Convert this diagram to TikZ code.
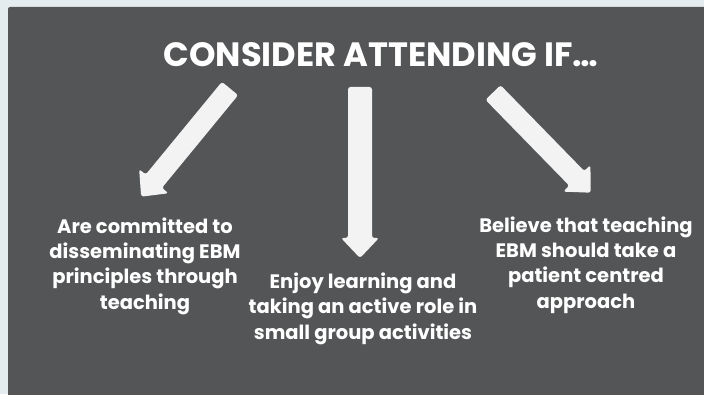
\documentclass[tikz,border=0pt]{standalone}
\usepackage{fontspec}
\setmainfont{Poppins}
\definecolor{bgout}{HTML}{E5ECEF}
\definecolor{panel}{HTML}{545557}
\definecolor{arrowc}{HTML}{F3F3F3}
\newcommand{\blockarrow}[6]{% tail x, tail y, angle, length, shaft half, head half
  \begin{scope}[shift={(#1,#2)},rotate=#3]
    \fill[arrowc,rounded corners=2.5pt] (0,-#5) -- (#4-20,-#5) -- (#4-20,-#6) -- (#4,0) -- (#4-20,#6) -- (#4-20,#5) -- (0,#5) -- cycle;
  \end{scope}}
\tikzset{
  body/.style={text=white,font=\bfseries\fontsize{19.5}{25.3}\selectfont,align=center,inner sep=0pt,anchor=base},
  title/.style={text=white,font=\bfseries\fontsize{33.7}{40}\selectfont,inner sep=0pt,anchor=base}
}
\begin{document}
\begin{tikzpicture}[x=1pt,y=1pt]
\useasboundingbox (0,0) rectangle (704,394);
\fill[bgout] (0,0) rectangle (704,394);
\fill[panel,rounded corners=2pt] (8,-5) rectangle (710,387);
\node[title] (t) at (381,327) {CONSIDER ATTENDING IF…};
\blockarrow{230}{305.5}{230.6}{140}{10.5}{19}
\blockarrow{360}{307}{270}{171}{12}{19}
\blockarrow{493}{301.5}{-45.7}{140}{10.5}{19}
\node[body] (a) at (145,85) {Are committed to\\disseminating EBM\\principles through\\teaching};
\node[body] (b) at (363,55) {Enjoy learning and\\taking an active role in\\small group activities};
\node[body] (c) at (586,86) {Believe that teaching\\EBM should take a\\patient centred\\approach};
\end{tikzpicture}
\end{document}
